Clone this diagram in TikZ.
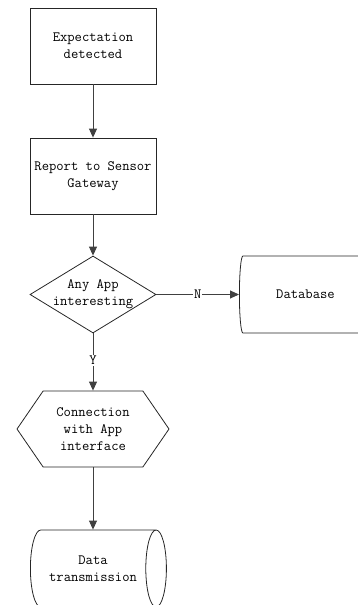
\documentclass[tikz,border=0pt]{standalone}
\usepackage{tikz}
\usetikzlibrary{shapes.geometric,shapes.symbols,arrows.meta}

\begin{document}
\begin{tikzpicture}[x=1pt,y=-1pt,>={Triangle[length=9pt,width=8pt]},
  every node/.style={font=\fontsize{14.2}{17}\selectfont\ttfamily,align=center},
  box/.style={draw=black!85,line width=0.8pt,minimum width=126pt,minimum height=76pt,inner sep=0pt},
  decide/.style={diamond,draw=black!85,line width=0.8pt,aspect=1.64,minimum width=126pt,minimum height=77pt,inner sep=-3pt},
  prep/.style={signal,signal to=west and east,signal pointer angle=111,draw=black!85,line width=0.8pt,minimum width=152pt,minimum height=76pt,inner sep=0pt},
  store/.style={cylinder,draw=black!85,line width=0.8pt,shape aspect=0.8,minimum width=77pt,minimum height=136pt,inner sep=0pt,anchor=west},
  link/.style={->,draw=black!75,line width=0.9pt}]
\useasboundingbox (0,0) rectangle (357,605);
\node[box] (detect) at (93,46) {Expectation\\detected};
\node[box] (report) at (93,176) {Report to Sensor\\Gateway};
\node[decide] (anyapp) at (93,294.5) {Any App\\interesting};
\node[store] (database) at (239,294.5) {Database};
\node[prep] (connect) at (93,429) {Connection\\with App\\interface};
\node[store] (transmit) at (30,568.5) {Data\\transmission};
\draw[link] (detect) -- (report); \draw[link] (report) -- (anyapp);
\draw[link] (anyapp.east) -- node[fill=white,inner sep=1pt]{N} (database.west);
\draw[link] (anyapp.south) -- node[fill=white,inner sep=1pt,pos=0.47]{Y} (connect.north);
\draw[link] (connect.south) -- (connect.south |- transmit.north);
\end{tikzpicture}
\end{document}
